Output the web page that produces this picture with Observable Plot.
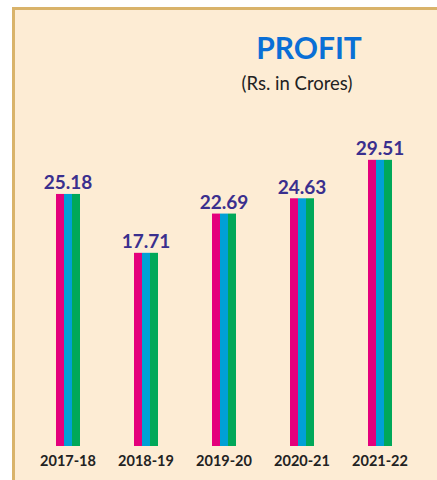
<!DOCTYPE html>
<html>
<head>
<meta charset="utf-8">
<script src="https://cdn.jsdelivr.net/npm/d3@7"></script>
<script src="https://cdn.jsdelivr.net/npm/@observablehq/plot@0.6"></script>
<style>
  html, body { margin: 0; padding: 0; background: #ffffff; width: 437px; height: 480px; overflow: hidden; }
  #panel { position: absolute; left: 12px; top: 7px; width: 500px; height: 520px;
           background: #FDECD4; border-left: 3px solid #D9B36A; border-top: 3px solid #D9B36A; box-sizing: border-box; }
  .t { position: absolute; white-space: nowrap; transform: translateX(-50%); line-height: 1; font-family: Lato, "Open Sans", sans-serif; }
  #title { left: 309px; top: 32px; font-size: 30px; font-weight: 700; color: #0A6FD6; }
  #subtitle { left: 297px; top: 74px; font-size: 18.5px; color: #222222; }
  #chart { position: absolute; left: 0; top: 0; }
</style>
</head>
<body>
<div id="panel"></div>
<div class="t" id="title">PROFIT</div>
<div class="t" id="subtitle">(Rs. in Crores)</div>
<div id="chart"></div>
<script>
const years = ["2017-18", "2018-19", "2019-20", "2020-21", "2021-22"];
const profits = [25.18, 17.71, 22.69, 24.63, 29.51];
const stripes = ["s1", "s2", "s3"];
const stripeColors = ["#E4007C", "#00A0D6", "#00A859"];
const yDomain = [-6.8, 37.1];

const bars = years.flatMap((year, i) => stripes.map(s => ({year, stripe: s, value: profits[i]})));
const labels = years.map((year, i) => ({year, value: profits[i]}));

const chart = Plot.plot({
  width: 437,
  height: 480,
  marginLeft: 55,
  marginRight: 45,
  marginTop: 100,
  marginBottom: 34,
  style: {background: "transparent", overflow: "visible"},
  fx: {domain: years, padding: 0.68, paddingOuter: 0, label: null, axis: null},
  x: {domain: stripes, padding: 0, axis: null},
  y: {domain: yDomain, axis: null},
  color: {type: "ordinal", domain: stripes, range: stripeColors},
  marks: [
    Plot.barY(bars, {fx: "year", x: "stripe", y1: yDomain[0], y2: "value", fill: "stripe", inset: 0}),
    Plot.text(labels, {fx: "year", y: "value", text: d => d.value.toFixed(2), lineAnchor: "bottom", dy: -5,
      fill: "#3A2F8E", fontSize: 19, fontWeight: 700, fontFamily: "Lato, sans-serif"}),
    Plot.axisFx({anchor: "bottom", tickSize: 0, tickPadding: 9, label: null,
      fontSize: 14.5, fontWeight: 700, fill: "#222222", fontFamily: "Lato, sans-serif"})
  ]
});
document.getElementById("chart").appendChild(chart);
</script>
</body>
</html>
